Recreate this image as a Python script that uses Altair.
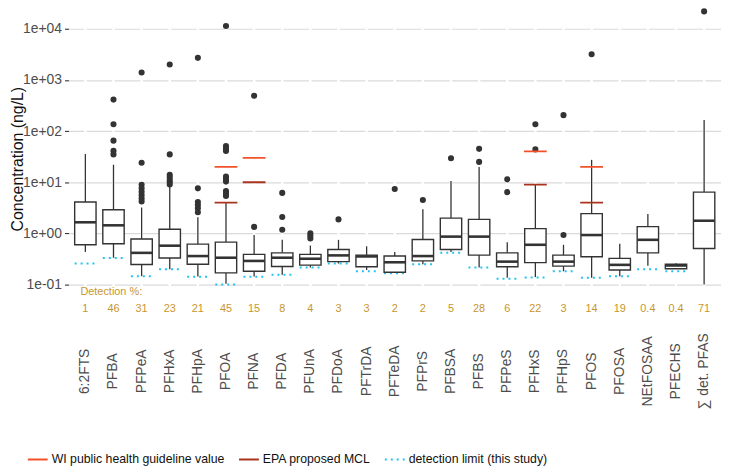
import altair as alt
import pandas as pd

# ---------------- data ----------------
cats = ["6:2FTS", "PFBA", "PFPeA", "PFHxA", "PFHpA", "PFOA", "PFNA", "PFDA",
        "PFUnA", "PFDoA", "PFTrDA", "PFTeDA", "PFPrS", "PFBSA", "PFBS", "PFPeS",
        "PFHxS", "PFHpS", "PFOS", "PFOSA", "NEtFOSAA", "PFECHS", "∑ det. PFAS"]

w_lo = [0.435, 0.335, 0.146, 0.199, 0.144, 0.104, 0.144, 0.155, 0.216, 0.258, 0.193, 0.174,
        0.25, 0.435, 0.216, 0.136, 0.14, 0.182, 0.136, 0.146, 0.233, 0.204, 0.1]
q1 = [0.60, 0.63, 0.247, 0.331, 0.25, 0.169, 0.182, 0.226, 0.24, 0.281, 0.223, 0.174,
      0.29, 0.484, 0.377, 0.223, 0.269, 0.23, 0.35, 0.193, 0.417, 0.204, 0.506]
med = [1.65, 1.44, 0.417, 0.576, 0.361, 0.335, 0.29, 0.335, 0.32, 0.372, 0.355, 0.273,
       0.361, 0.866, 0.866, 0.281, 0.6, 0.281, 0.93, 0.243, 0.75, 0.236, 1.77]
q3 = [4.12, 2.91, 0.78, 1.21, 0.618, 0.675, 0.389, 0.417, 0.389, 0.484, 0.377, 0.361,
      0.76, 1.99, 1.88, 0.417, 1.24, 0.377, 2.44, 0.326, 1.36, 0.25, 6.4]
w_hi = [35.6, 22, 3.21, 8.0, 2.07, 4.0, 0.93, 0.75, 0.58, 0.75, 0.56, 0.435,
        2.98, 10.6, 19.9, 0.675, 8.9, 0.6, 27.4, 0.63, 2.4, 0.262, 165]

det_limit = [0.258, 0.33, 0.145, 0.199, 0.143, 0.1, 0.143, 0.155, 0.216, 0.258, 0.182, 0.166,
             0.25, 0.417, 0.216, 0.13, 0.137, 0.182, 0.136, 0.146, 0.2, 0.182, None]

detect_pct = ["1", "46", "31", "23", "21", "45", "15", "8", "4", "3", "3", "2",
              "2", "5", "28", "6", "22", "3", "14", "19", "0.4", "0.4", "71"]

outliers = {
    "PFBA": [412, 136, 65, 41, 35],
    "PFPeA": [1400, 24, 8.9, 7.6, 6.5, 5.6, 4.8, 4.2],
    "PFHxA": [2000, 35, 14, 12.5, 11, 10, 9],
    "PFHpA": [2700, 7.6, 4.1, 3.6, 3.1, 2.6],
    "PFOA": [11300, 51, 45, 41, 12.9, 11.5, 10.3, 6.7, 6.0, 5.4],
    "PFNA": [490, 1.34],
    "PFDA": [6.2, 2.1, 1.18],
    "PFUnA": [1.0, 0.9, 0.8],
    "PFDoA": [1.88],
    "PFTeDA": [7.4],
    "PFPrS": [4.5],
    "PFBSA": [29.5],
    "PFBS": [45, 25],
    "PFPeS": [11.4, 6.4],
    "PFHxS": [136, 43.8],
    "PFHpS": [205, 0.93],
    "PFOS": [3180],
    "∑ det. PFAS": [21800],
}

guide_cats = ["PFOA", "PFNA", "PFHxS", "PFOS"]
wi_vals = [20, 30, 40, 20]
epa_vals = [4, 10, 9, 4]

line_names = ["WI public health guideline value", "EPA proposed MCL", "detection limit (this study)"]
line_colors = ["#F2522A", "#A8341E", "#22C4F0"]

y_ticks = [0.1, 1, 10, 100, 1000, 10000]
y_tick_labels = ["1e-01", "1e+00", "1e+01", "1e+02", "1e+03", "1e+04"]

det_title = "Detection %:"
det_title_y = 0.0731
det_row_y = 0.034

# ---------------- layout ----------------
W, H = 658, 308
Y_DOMAIN = [0.02506, 23335]
FONT = "Liberation Sans"
BOX_COL = "#333333"

box_df = pd.DataFrame({"cat": cats, "lo": w_lo, "q1": q1, "med": med, "q3": q3, "hi": w_hi})
out_df = pd.DataFrame([{"cat": c, "v": v} for c, vs in outliers.items() for v in vs])
dl_df = pd.DataFrame({"cat": cats, "v": det_limit, "line": line_names[2]}).dropna()
wi_df = pd.DataFrame({"cat": guide_cats, "v": wi_vals, "line": line_names[0]})
epa_df = pd.DataFrame({"cat": guide_cats, "v": epa_vals, "line": line_names[1]})
pct_df = pd.DataFrame({"cat": cats, "t": detect_pct, "y": det_row_y})
dtitle_df = pd.DataFrame({"cat": [cats[0]], "t": [det_title], "y": [det_title_y]})
cat_df = pd.DataFrame({"cat": cats})

label_expr = "[" + ",".join("'%s'" % l for l in y_tick_labels) + "][round(log(datum.value)/LN10)+1]"

xs = alt.Scale(type="band", domain=cats, paddingInner=0, paddingOuter=0.1)
ys = alt.Scale(type="log", domain=Y_DOMAIN, nice=False)

x_axis = alt.Axis(title=None, labelAngle=270, labelAlign="center", labelBaseline="middle",
                  labelPadding=56, ticks=False, tickSize=0, domain=False, grid=False,
                  labelFontSize=14, labelColor="#4D4D4D", labelFont=FONT, labelOverlap=False,
                  labelLimit=300)
y_axis = alt.Axis(values=y_ticks, labelExpr=label_expr, grid=True, gridColor="#DADADA",
                  gridWidth=1.2, domain=False, ticks=True, tickSize=4, tickColor="#333333",
                  tickWidth=1.1, labelColor="#4D4D4D", labelFontSize=14, labelFont=FONT,
                  labelPadding=3, title="Concentration (ng/L)", titleFontSize=16,
                  titleFont=FONT, titleColor="#111111", titleFontWeight="normal",
                  titleAngle=270, titleAlign="center", titleBaseline="middle",
                  titleX=-51, titleY=150)

X = alt.X("cat:N", scale=xs, axis=x_axis, sort=cats)

gaps = alt.Chart(cat_df).mark_rule(color="white", strokeWidth=2.5).encode(
    x=X, y=alt.value(0), y2=alt.value(H))

whisk_lo = alt.Chart(box_df).mark_rule(color=BOX_COL, strokeWidth=1.3).encode(
    x=X, y=alt.Y("lo:Q", scale=ys, axis=y_axis), y2="q1:Q")
whisk_hi = alt.Chart(box_df).mark_rule(color=BOX_COL, strokeWidth=1.3).encode(
    x=X, y=alt.Y("q3:Q", scale=ys, axis=y_axis), y2="hi:Q")
boxes = alt.Chart(box_df).mark_bar(fill="white", stroke=BOX_COL, strokeWidth=1.4,
                                   width=alt.RelativeBandSize(0.76)).encode(
    x=X, y=alt.Y("q1:Q", scale=ys, axis=y_axis), y2="q3:Q")
medians = alt.Chart(box_df).mark_tick(color=BOX_COL, size=21.5, thickness=2.6, opacity=1).encode(
    x=X, y=alt.Y("med:Q", scale=ys, axis=y_axis))
pts = alt.Chart(out_df).mark_circle(color=BOX_COL, size=38, opacity=1).encode(
    x=X, y=alt.Y("v:Q", scale=ys, axis=y_axis))

legend = alt.Legend(title=None, orient="none", legendX=-42, legendY=442, direction="horizontal",
                    symbolType="stroke", symbolSize=400, symbolStrokeWidth=2,
                    labelFontSize=12.4, labelFont=FONT, labelColor="#111111",
                    labelOffset=3, columnPadding=10, padding=0, labelLimit=400)
color = alt.Color("line:N", scale=alt.Scale(domain=line_names, range=line_colors), legend=legend)
dash = alt.StrokeDash("line:N", scale=alt.Scale(domain=line_names, range=[[1, 0], [1, 0], [2, 4]]),
                      legend=legend)

dl_lines = alt.Chart(dl_df).mark_rule(strokeWidth=2).encode(
    x=alt.X("cat:N", scale=xs, axis=x_axis, sort=cats, bandPosition=0.12),
    x2=alt.X2("cat", bandPosition=0.88),
    y=alt.Y("v:Q", scale=ys, axis=y_axis), color=color, strokeDash=dash)
guide_lines = alt.Chart(pd.concat([wi_df, epa_df])).mark_rule(strokeWidth=1.8).encode(
    x=alt.X("cat:N", scale=xs, axis=x_axis, sort=cats, bandPosition=0.095),
    x2=alt.X2("cat", bandPosition=0.905),
    y=alt.Y("v:Q", scale=ys, axis=y_axis), color=color, strokeDash=dash)

pct_text = alt.Chart(pct_df).mark_text(font=FONT, fontSize=11, color="#C9962D").encode(
    x=X, y=alt.Y("y:Q", scale=ys, axis=y_axis), text="t:N")
dtitle_text = alt.Chart(dtitle_df).mark_text(font=FONT, fontSize=11, color="#C9962D",
                                              align="left", dx=-5).encode(
    x=X, y=alt.Y("y:Q", scale=ys, axis=y_axis), text="t:N")

chart = alt.layer(gaps, dl_lines, whisk_lo, whisk_hi, boxes, medians, pts, guide_lines,
                  pct_text, dtitle_text).properties(
    width=W, height=H,
    autosize=alt.AutoSizeParams(type="none"),
    padding={"left": 61, "top": 0, "right": 0, "bottom": 151},
).configure_view(strokeWidth=0)

chart.save("out.html", embed_options={"renderer": "svg", "actions": False})
